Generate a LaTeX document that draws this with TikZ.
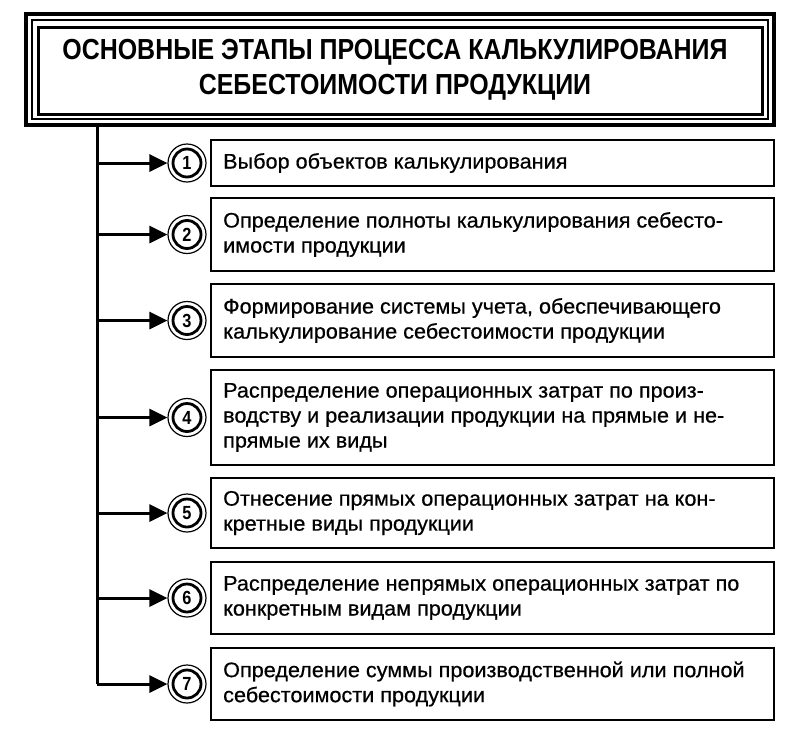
\documentclass[tikz,border=0pt]{standalone}
\usepackage{fontspec}
\setmainfont[FakeStretch=0.86]{Liberation Sans}
\newfontfamily\bodyfont[FakeStretch=1.03,FakeBold=0.6]{Liberation Sans}
\usetikzlibrary{arrows.meta}
\begin{document}
\begin{tikzpicture}[x=1pt,y=-1pt,
  steptext/.style={anchor=west,align=left,inner sep=0pt,font=\bodyfont\fontsize{21}{25}\selectfont},
  conn/.style={line width=3pt,-{Triangle[length=18pt,width=17pt]}}]
\useasboundingbox (0,0) rectangle (800,742);
\draw[line width=4.5pt] (26,14) rectangle (774,125);
\draw[line width=1.2pt] (32,20) rectangle (768,119);
\draw[line width=3pt] (38,27) rectangle (762,114);
\node[align=center,font=\bfseries\fontsize{29}{35}\selectfont] (title) at (395,70) {ОСНОВНЫЕ ЭТАПЫ ПРОЦЕССА КАЛЬКУЛИРОВАНИЯ\\СЕБЕСТОИМОСТИ ПРОДУКЦИИ};
\coordinate (top) at (97,125);
\foreach \i/\t/\b/\txt in {
 1/140/186/{Выбор объектов калькулирования},
 2/198/271/{Определение полноты калькулирования себесто-\\имости продукции},
 3/284/357/{Формирование системы учета, обеспечивающего\\калькулирование себестоимости продукции},
 4/370/465/{Распределение операционных затрат по произ-\\водству и реализации продукции на прямые и не-\\прямые их виды},
 5/478/548/{Отнесение прямых операционных затрат на кон-\\кретные виды продукции},
 6/562/634/{Распределение непрямых операционных затрат по\\конкретным видам продукции},
 7/648/720/{Определение суммы производственной или полной\\себестоимости продукции}}{
  \draw[line width=2.6pt] (211,\t) rectangle (774,\b);
  \node[steptext] (s\i) at (223,{(\t+\b)/2}) {\txt};
  \node[circle,draw,line width=1.2pt,minimum size=38pt,inner sep=0pt] (o\i) at (187,{(\t+\b)/2}) {};
  \node[circle,draw,line width=2.8pt,minimum size=28pt,inner sep=0pt,font=\bfseries\fontsize{19}{19}\selectfont] (c\i) at (187,{(\t+\b)/2}) {\i};
  \coordinate (j\i) at (97,{(\t+\b)/2});
  \draw[conn] (j\i) -- (o\i.west);
}
\draw[line width=3pt] (top) -- (j7);
\end{tikzpicture}
\end{document}
